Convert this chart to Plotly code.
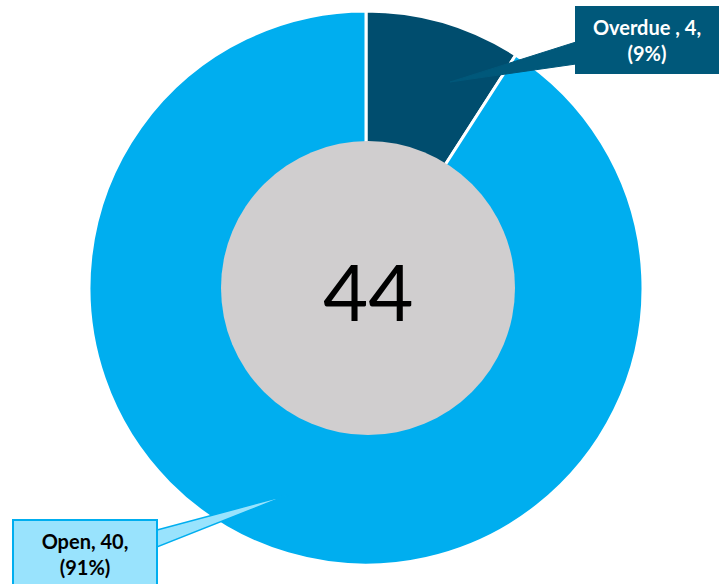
import plotly.graph_objects as go

labels = ["Overdue", "Open"]
values = [4, 40]
colors = ["#004D6E", "#00AEEF"]
total = sum(values)

W, H = 722, 584
cx, cy, R = 366, 288, 277

fig = go.Figure()
fig.add_trace(go.Pie(
    labels=labels, values=values, sort=False, direction="clockwise", rotation=0,
    hole=0.5, textinfo="none", hoverinfo="label+value+percent",
    marker=dict(colors=colors, line=dict(color="white", width=3)),
    domain=dict(x=[(cx - R) / W, (cx + R) / W], y=[(H - cy - R) / H, (H - cy + R) / H]),
    showlegend=False,
))

# invisible pixel axes for decorations
fig.update_xaxes(range=[0, W], visible=False, domain=[0, 1], fixedrange=True)
fig.update_yaxes(range=[H, 0], visible=False, domain=[0, 1], fixedrange=True)

# gray center disk
hr = 147
fig.add_shape(type="circle", xref="x", yref="y", x0=cx + 2 - hr, x1=cx + 2 + hr,
              y0=cy - hr, y1=cy + hr, fillcolor="#D0CECF", line=dict(width=0), layer="above")

# callout wedges
fig.add_shape(type="path", xref="x", yref="y", path="M 576 42 L 450 82 L 576 64 Z",
              fillcolor="#00587A", line=dict(color="#00587A", width=1), layer="above")
fig.add_shape(type="path", xref="x", yref="y", path="M 157 530 L 288 495 L 157 547 Z",
              fillcolor="#99E3FD", line=dict(color="#00AEEF", width=1.5), layer="above")

pct = [round(v / total * 100) for v in values]
fig.add_annotation(xref="x", yref="y", x=575, y=6, xanchor="left", yanchor="top",
                   text=f"<b>{labels[0]} , {values[0]},<br>({pct[0]}%)</b>", showarrow=False,
                   width=142, height=66, bgcolor="#00587A", bordercolor="#00587A", borderwidth=1,
                   borderpad=0, font=dict(family="Lato", size=20, color="white"), align="center")
fig.add_annotation(xref="x", yref="y", x=12, y=519, xanchor="left", yanchor="top",
                   text=f"<b>{labels[1]}, {values[1]},<br>({pct[1]}%)</b>", showarrow=False,
                   width=142, height=66, bgcolor="#99E3FD", bordercolor="#00AEEF", borderwidth=2,
                   borderpad=0, font=dict(family="Lato", size=20, color="black"), align="center")
fig.add_annotation(xref="x", yref="y", x=cx + 2, y=cy + 3, text=str(total), showarrow=False,
                   font=dict(family="Lato", size=78, color="black"))

fig.update_layout(width=W, height=H, margin=dict(l=0, r=0, t=0, b=0),
                  paper_bgcolor="white", plot_bgcolor="rgba(0,0,0,0)")
fig.write_html("out.html", config={"displayModeBar": False},
               post_script="document.body.style.margin='0';document.body.style.overflow='hidden';")
